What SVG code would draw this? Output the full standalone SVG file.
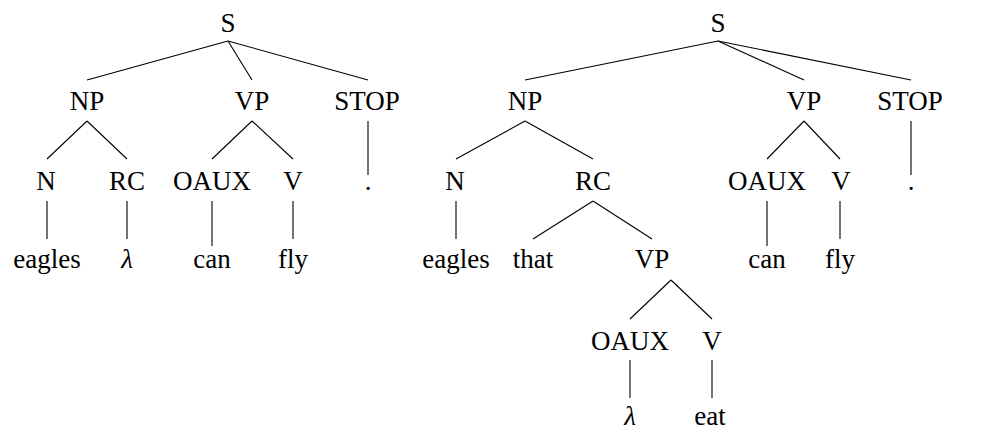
<svg xmlns="http://www.w3.org/2000/svg" width="984" height="430" viewBox="0 0 984 430">
  <rect width="984" height="430" fill="#fff"/>

  <!-- connectors for both trees -->
  <g id="edges" stroke="#000" stroke-width="1.1">
    <!-- left tree -->
    <line x1="228" y1="41" x2="87" y2="80"/>
    <line x1="228" y1="41" x2="252" y2="80"/>
    <line x1="228" y1="41" x2="368" y2="80"/>
    <line x1="87" y1="121" x2="47" y2="159"/>
    <line x1="87" y1="121" x2="127" y2="159"/>
    <line x1="252" y1="121" x2="212" y2="159"/>
    <line x1="252" y1="121" x2="293" y2="159"/>
    <line x1="368" y1="121" x2="368" y2="175"/>
    <line x1="47" y1="201" x2="47" y2="239"/>
    <line x1="127" y1="201" x2="127" y2="239"/>
    <line x1="212" y1="201" x2="212" y2="246"/>
    <line x1="293" y1="201" x2="293" y2="239"/>
    <!-- right tree -->
    <line x1="718" y1="41" x2="525" y2="80"/>
    <line x1="718" y1="41" x2="804" y2="80"/>
    <line x1="718" y1="41" x2="911" y2="80"/>
    <line x1="525" y1="121" x2="456" y2="159"/>
    <line x1="525" y1="121" x2="593" y2="159"/>
    <line x1="804" y1="121" x2="767" y2="159"/>
    <line x1="804" y1="121" x2="840" y2="159"/>
    <line x1="911" y1="121" x2="911" y2="175"/>
    <line x1="456" y1="201" x2="456" y2="239"/>
    <line x1="593" y1="201" x2="533" y2="239"/>
    <line x1="593" y1="201" x2="652" y2="239"/>
    <line x1="767" y1="201" x2="767" y2="246"/>
    <line x1="840" y1="201" x2="840" y2="239"/>
    <line x1="671" y1="280" x2="630" y2="319"/>
    <line x1="671" y1="280" x2="712" y2="319"/>
    <line x1="630" y1="360" x2="630" y2="398"/>
    <line x1="712" y1="360" x2="712" y2="398"/>
  </g>

  <!-- left tree: eagles can fly -->
  <g id="L-S"><text x="228" y="32" font-family="Liberation Serif" font-size="27" text-anchor="middle">S</text></g>
  <g id="L-NP"><text x="87" y="110" font-family="Liberation Serif" font-size="27" text-anchor="middle">NP</text></g>
  <g id="L-VP"><text x="252" y="110" font-family="Liberation Serif" font-size="27" text-anchor="middle">VP</text></g>
  <g id="L-STOP"><text x="367" y="110" font-family="Liberation Serif" font-size="27" text-anchor="middle">STOP</text></g>
  <g id="L-N"><text x="46" y="190" font-family="Liberation Serif" font-size="27" text-anchor="middle">N</text></g>
  <g id="L-RC"><text x="127" y="190" font-family="Liberation Serif" font-size="27" text-anchor="middle">RC</text></g>
  <g id="L-OAUX"><text x="212" y="190" font-family="Liberation Serif" font-size="27" text-anchor="middle">OAUX</text></g>
  <g id="L-V"><text x="293" y="190" font-family="Liberation Serif" font-size="27" text-anchor="middle">V</text></g>
  <g id="L-dot"><text x="368" y="190" font-family="Liberation Serif" font-size="27" text-anchor="middle">.</text></g>
  <g id="L-eagles"><text x="47" y="268" font-family="Liberation Serif" font-size="27" text-anchor="middle">eagles</text></g>
  <g id="L-lambda"><text x="127" y="268" font-family="Liberation Serif" font-size="27" font-style="italic" text-anchor="middle">λ</text></g>
  <g id="L-can"><text x="212" y="268" font-family="Liberation Serif" font-size="27" text-anchor="middle">can</text></g>
  <g id="L-fly"><text x="293" y="268" font-family="Liberation Serif" font-size="27" text-anchor="middle">fly</text></g>

  <!-- right tree: eagles that eat can fly -->
  <g id="R-S"><text x="718" y="32" font-family="Liberation Serif" font-size="27" text-anchor="middle">S</text></g>
  <g id="R-NP"><text x="525" y="110" font-family="Liberation Serif" font-size="27" text-anchor="middle">NP</text></g>
  <g id="R-VP"><text x="804" y="110" font-family="Liberation Serif" font-size="27" text-anchor="middle">VP</text></g>
  <g id="R-STOP"><text x="910" y="110" font-family="Liberation Serif" font-size="27" text-anchor="middle">STOP</text></g>
  <g id="R-N"><text x="455" y="190" font-family="Liberation Serif" font-size="27" text-anchor="middle">N</text></g>
  <g id="R-RC"><text x="593" y="190" font-family="Liberation Serif" font-size="27" text-anchor="middle">RC</text></g>
  <g id="R-OAUX"><text x="767" y="190" font-family="Liberation Serif" font-size="27" text-anchor="middle">OAUX</text></g>
  <g id="R-V"><text x="841" y="190" font-family="Liberation Serif" font-size="27" text-anchor="middle">V</text></g>
  <g id="R-dot"><text x="911" y="190" font-family="Liberation Serif" font-size="27" text-anchor="middle">.</text></g>
  <g id="R-eagles"><text x="456" y="268" font-family="Liberation Serif" font-size="27" text-anchor="middle">eagles</text></g>
  <g id="R-that"><text x="533" y="268" font-family="Liberation Serif" font-size="27" text-anchor="middle">that</text></g>
  <g id="R-VP2"><text x="652" y="268" font-family="Liberation Serif" font-size="27" text-anchor="middle">VP</text></g>
  <g id="R-can"><text x="767" y="268" font-family="Liberation Serif" font-size="27" text-anchor="middle">can</text></g>
  <g id="R-fly"><text x="840" y="268" font-family="Liberation Serif" font-size="27" text-anchor="middle">fly</text></g>
  <g id="R-OAUX2"><text x="630" y="350" font-family="Liberation Serif" font-size="27" text-anchor="middle">OAUX</text></g>
  <g id="R-V2"><text x="712" y="350" font-family="Liberation Serif" font-size="27" text-anchor="middle">V</text></g>
  <g id="R-lambda"><text x="630" y="425" font-family="Liberation Serif" font-size="27" font-style="italic" text-anchor="middle">λ</text></g>
  <g id="R-eat"><text x="710" y="425" font-family="Liberation Serif" font-size="27" text-anchor="middle">eat</text></g>
</svg>
